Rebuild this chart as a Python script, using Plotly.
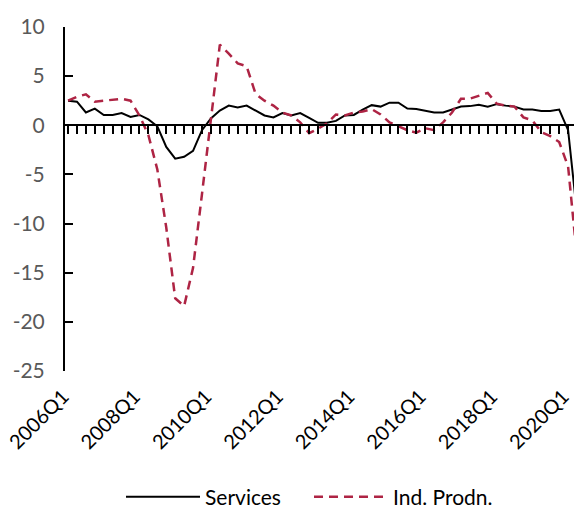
import plotly.graph_objects as go

quarters = [f"{y}Q{q}" for y in range(2006, 2021) for q in range(1, 5)][:58]

services = [2.5, 2.4, 1.3, 1.7, 1.05, 1.05, 1.25, 0.85, 1.05, 0.6,
            -0.1, -2.2, -3.4, -3.2, -2.6, -0.5, 0.7, 1.5, 2.0, 1.8,
            2.0, 1.5, 1.0, 0.8, 1.25, 1.0, 1.25, 0.75, 0.25, 0.25,
            0.45, 1.0, 1.05, 1.6, 2.05, 1.9, 2.3, 2.3, 1.7, 1.65,
            1.45, 1.3, 1.3, 1.6, 1.9, 1.95, 2.1, 1.9, 2.15, 2.0,
            1.9, 1.6, 1.6, 1.45, 1.45, 1.6, -0.5, -9.0]

ind_prodn = [2.5, 2.9, 3.15, 2.4, 2.5, 2.6, 2.7, 2.5, 1.0, -1.0,
             -4.5, -10.4, -17.6, -18.4, -14.5, -7.0, 0.8, 8.2, 7.3, 6.3,
             6.0, 3.2, 2.5, 2.0, 1.3, 1.0, 0.3, -0.8, -0.35, 0.2,
             1.1, 1.0, 1.3, 1.4, 1.65, 1.1, 0.3, -0.1, -0.5, -0.75,
             -0.3, -0.5, 0.3, 1.3, 2.7, 2.7, 3.0, 3.3, 2.2, 2.0,
             1.9, 0.8, 0.5, -0.7, -1.1, -1.7, -4.2, -13.5]

x_tick_labels = ["2006Q1", "2008Q1", "2010Q1", "2012Q1", "2014Q1", "2016Q1", "2018Q1", "2020Q1"]
x_tick_pos = [quarters.index(t) for t in x_tick_labels]

y_tick_vals = [10, 5, 0, -5, -10, -15, -20, -25]
y_tick_labels = ["10", "5", "0", "-5", "-10", "-15", "-20", "-25"]

y_min, y_max = -25, 10
idx = list(range(len(quarters)))
x_range = [-0.34, 56.66]

FONT = "Lato"
RED = "#AE2444"

fig = go.Figure()
fig.add_trace(go.Scatter(x=idx, y=services, mode="lines", name="Services",
                         line=dict(color="black", width=2), xaxis="x", yaxis="y"))
fig.add_trace(go.Scatter(x=idx, y=ind_prodn, mode="lines", name="Ind. Prodn.",
                         line=dict(color=RED, width=2.5, dash="9px,6px"), xaxis="x", yaxis="y"))
fig.add_trace(go.Scatter(x=[None], y=[None], mode="lines", showlegend=False,
                         hoverinfo="skip", xaxis="x2", yaxis="y"))

fig.update_layout(
    width=574, height=512,
    margin=dict(l=65, r=0, t=27, b=141, autoexpand=False),
    paper_bgcolor="white", plot_bgcolor="white",
    font=dict(family=FONT, size=20, color="black"),
    showlegend=True,
    legend=dict(orientation="h", xref="container", yref="container",
                x=0.2108, xanchor="left", y=0.0293, yanchor="middle",
                font=dict(family=FONT, size=21, color="black"), itemwidth=74,
                entrywidth=99, traceorder="normal", bgcolor="rgba(0,0,0,0)"),
    xaxis=dict(range=x_range, tickmode="array", tickvals=x_tick_pos, ticktext=x_tick_labels,
               tickangle=-45, showline=False, showgrid=False, zeroline=False, ticks="",
               automargin=False, ticklabelstandoff=9, ticklabelshift=-5,
               ticklabeloverflow="allow",
               tickfont=dict(family=FONT, size=20, color="black")),
    xaxis2=dict(range=x_range, overlaying="x", anchor="free",
                position=(0 - y_min) / (y_max - y_min),
                showline=True, linecolor="black", linewidth=2,
                ticks="outside", ticklen=8, tickwidth=2, tickcolor="black",
                tickmode="linear", tick0=0, dtick=1, showticklabels=False,
                showgrid=False, zeroline=False, automargin=False),
    yaxis=dict(range=[y_min, y_max], tickmode="array", tickvals=y_tick_vals,
               ticktext=y_tick_labels, showline=True, linecolor="black", linewidth=2,
               ticks="inside", ticklen=8, tickwidth=2, tickcolor="black",
               showgrid=False, zeroline=False, ticklabelstandoff=14, automargin=False,
               tickfont=dict(family=FONT, size=21, color="#595959")),
)

fig.write_html(
    "out.html",
    config={"displayModeBar": False},
    post_script="document.body.style.margin='0';document.body.style.overflow='hidden';",
)
